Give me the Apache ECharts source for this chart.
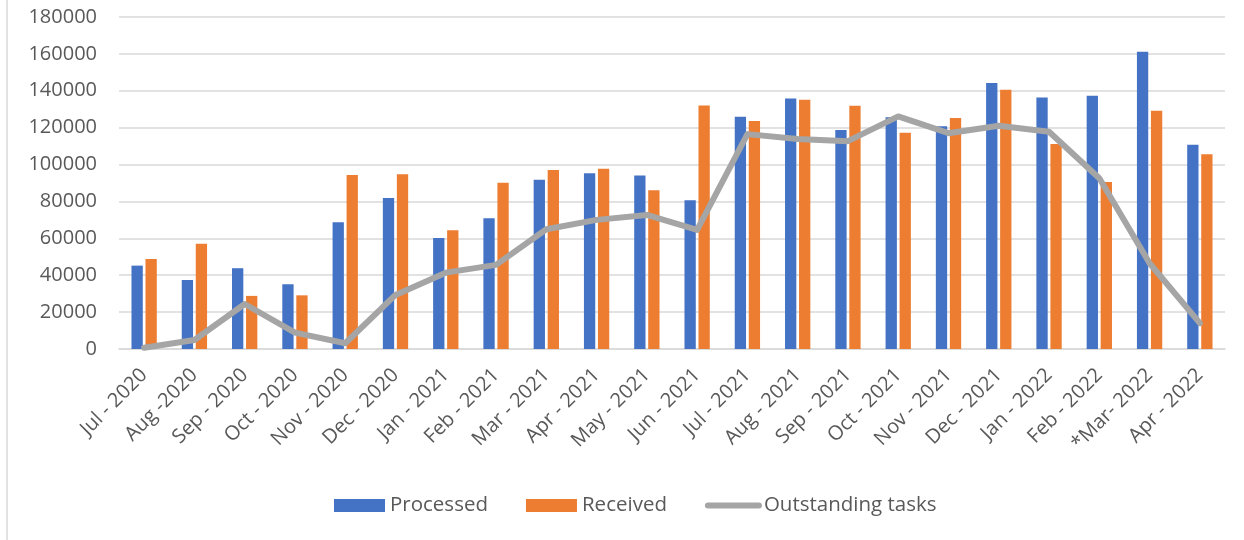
<!DOCTYPE html>
<html>
<head>
<meta charset="utf-8">
<title>Processed, received and outstanding tasks</title>
<script src="https://cdn.jsdelivr.net/npm/echarts@6/dist/echarts.min.js"></script>
<style>
  html, body { margin: 0; padding: 0; background: #ffffff; }
  #chart { width: 1244px; height: 540px; }
</style>
</head>
<body>
<div id="chart"></div>
<script>
// Monthly categories
const months = [
  'Jul - 2020', 'Aug -2020', 'Sep - 2020', 'Oct - 2020', 'Nov - 2020', 'Dec - 2020',
  'Jan - 2021', 'Feb - 2021', 'Mar - 2021', 'Apr - 2021', 'May - 2021', 'Jun - 2021',
  'Jul - 2021', 'Aug - 2021', 'Sep - 2021', 'Oct - 2021', 'Nov - 2021', 'Dec - 2021',
  'Jan - 2022', 'Feb - 2022', '*Mar- 2022', 'Apr - 2022'
];

// Tasks processed per month
const processed = [
  45200, 37400, 43800, 35100, 68700, 81900,
  60200, 70900, 91700, 95300, 94000, 80700,
  125900, 135800, 118800, 125700, 120800, 144200,
  136400, 137300, 161200, 110700
];

// Tasks received per month
const received = [
  48800, 57000, 28800, 29100, 94400, 94800,
  64400, 90100, 97100, 97700, 86100, 132000,
  123600, 135100, 131900, 117200, 125200, 140600,
  111200, 90600, 129200, 105600
];

// Outstanding tasks at month end
const outstanding = [
  700, 4900, 24400, 8900, 3100, 29300,
  41400, 45600, 64900, 70000, 72700, 64600,
  116500, 113800, 112700, 126100, 117000, 121000,
  117800, 92600, 46500, 14000
];

// Value axis scale
const yMin = 0;
const yMax = 180000;
const yStep = 20000;

const FONT = '"Open Sans", "Noto Sans", sans-serif';
const TEXT = '#595959';
const GRID = '#d9d9d9';
const LINE_GREY = '#A5A5A5';

const chart = echarts.init(document.getElementById('chart'), null, { renderer: 'canvas' });

chart.setOption({
  backgroundColor: '#ffffff',
  animation: false,
  textStyle: { fontFamily: FONT },
  graphic: [
    {
      type: 'line',
      shape: { x1: 7, y1: 0, x2: 7, y2: 540 },
      style: { stroke: GRID, lineWidth: 1.5 },
      silent: true
    }
  ],
  grid: { left: 119, top: 17, width: 1106, height: 332, containLabel: false },
  legend: {
    left: 334,
    top: 495,
    padding: 0,
    itemWidth: 51,
    itemHeight: 13,
    itemGap: 38,
    textStyle: { fontSize: 20.5, color: TEXT, fontFamily: FONT },
    data: [
      { name: 'Processed', icon: 'rect' },
      { name: 'Received', icon: 'rect' },
      {
        name: 'Outstanding tasks',
        itemStyle: { color: 'rgba(0,0,0,0)', borderWidth: 0 },
        lineStyle: { color: LINE_GREY, width: 6, cap: 'round' }
      }
    ]
  },
  xAxis: {
    type: 'category',
    data: months,
    boundaryGap: true,
    axisLine: { show: true, lineStyle: { color: GRID, width: 1.5 } },
    axisTick: { show: false },
    axisLabel: {
      interval: 0,
      rotate: 45,
      margin: 23,
      fontSize: 20,
      color: TEXT,
      fontFamily: FONT
    }
  },
  yAxis: {
    type: 'value',
    min: yMin,
    max: yMax,
    interval: yStep,
    axisLine: { show: false },
    axisTick: { show: false },
    splitLine: { lineStyle: { color: GRID, width: 1.5 } },
    axisLabel: {
      margin: 22,
      fontSize: 20,
      color: TEXT,
      fontFamily: FONT,
      formatter: (v) => String(v)
    }
  },
  series: [
    {
      name: 'Processed',
      type: 'bar',
      data: processed,
      barWidth: 11.3,
      barGap: '24%',
      itemStyle: { color: '#4472C4' }
    },
    {
      name: 'Received',
      type: 'bar',
      data: received,
      barWidth: 11.3,
      barGap: '24%',
      itemStyle: { color: '#ED7D31' }
    },
    {
      name: 'Outstanding tasks',
      type: 'line',
      data: outstanding,
      symbol: 'none',
      smooth: false,
      z: 5,
      lineStyle: { color: LINE_GREY, width: 6, cap: 'round', join: 'round' },
      itemStyle: { color: LINE_GREY }
    }
  ]
});
</script>
</body>
</html>
